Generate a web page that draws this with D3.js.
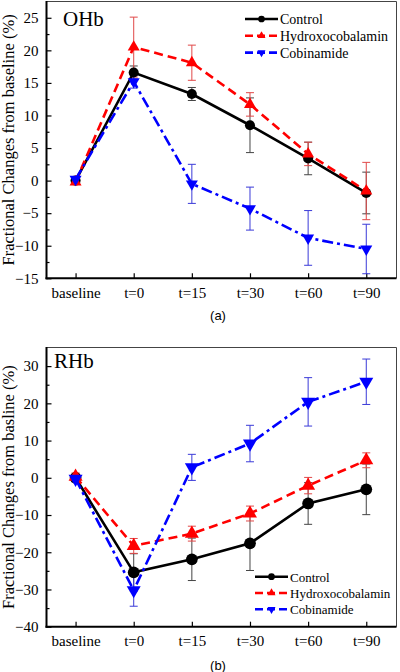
<!DOCTYPE html>
<html><head><meta charset="utf-8">
<script src="https://cdn.jsdelivr.net/npm/d3@7"></script>
<style>body{margin:0;background:#fff}svg{display:block}
svg text{font-family:"Liberation Serif","Times New Roman",serif}
svg text.sans{font-family:"Liberation Sans",Arial,sans-serif}</style>
</head><body>
<script>
const categories = ["baseline","t=0","t=15","t=30","t=60","t=90"];
const seriesNames = ["Control","Hydroxocobalamin","Cobinamide"];

const ohbControl    = [0, 16.6, 13.3, 8.5, 3.4, -1.9];
const ohbControlErr = [0.3, 1.0, 1.0, 4.2, 2.5, 3.2];
const ohbHydroxo    = [-0.2, 20.5, 18.1, 11.7, 4.1, -1.6];
const ohbHydroxoErr = [0.3, 4.6, 2.7, 1.8, 1.8, 4.4];
const ohbCobin      = [0.2, 15.2, -0.5, -4.3, -8.8, -10.5];
const ohbCobinErr   = [0.3, 1.0, 3.0, 3.3, 4.2, 3.8];
const ohbTicks = [-15,-10,-5,0,5,10,15,20,25];

const rhbControl    = [0, -25.4, -21.9, -17.6, -6.9, -3.1];
const rhbControlErr = [0.5, 5.0, 5.7, 7.3, 5.6, 6.8];
const rhbHydroxo    = [0.3, -18.3, -15.0, -9.6, -2.1, 4.7];
const rhbHydroxoErr = [1.0, 2.0, 2.0, 2.0, 2.2, 2.0];
const rhbCobin      = [-0.3, -30.2, 2.8, 9.2, 20.4, 25.8];
const rhbCobinErr   = [0.8, 4.3, 3.5, 4.9, 6.5, 6.1];
const rhbTicks = [-40,-30,-20,-10,0,10,20,30];

const svg = d3.select("body").append("svg").attr("width",400).attr("height",672);
const serif = '"Liberation Serif","Times New Roman",serif';

const styles = [
  {color:"#000000", err:"#444444", dash:null, marker:"circle"},
  {color:"#ff0000", err:"#e04848", dash:"9,5", marker:"up"},
  {color:"#0000ff", err:"#3a3ad8", dash:"11,4,3,4", marker:"down"}
];

function marker(g, type, x, y, s, color){
  if(type==="circle"){
    g.append("circle").attr("cx",x).attr("cy",y).attr("r",s*0.42).attr("fill",color);
  } else {
    const h = s*0.87, w = s/2;
    const pts = type==="up"
      ? [[x-w,y+h/3],[x+w,y+h/3],[x,y-2*h/3]]
      : [[x-w,y-h/3],[x+w,y-h/3],[x,y+2*h/3]];
    g.append("path").attr("d",d3.line()(pts)+"Z").attr("fill",color);
  }
}

function drawPanel(cfg){
  const g = svg.append("g");
  const x = d3.scaleLinear().domain([-0.5,5.52]).range([cfg.left,cfg.right]);
  const y = d3.scaleLinear().domain(cfg.ydom).range([cfg.bottom,cfg.top]);

  g.append("line").attr("x1",cfg.left).attr("x2",cfg.right).attr("y1",cfg.top).attr("y2",cfg.top).attr("stroke","#444").attr("stroke-width",1);
  g.append("line").attr("x1",cfg.right).attr("x2",cfg.right).attr("y1",cfg.top).attr("y2",cfg.bottom).attr("stroke","#444").attr("stroke-width",1);

  const yAx = g.append("g").attr("transform",`translate(${cfg.left},0)`)
    .call(d3.axisLeft(y).tickValues(cfg.ticks).tickSize(-5).tickPadding(8).tickFormat(d3.format("d")));
  const minor = [];
  for(let i=0;i<cfg.ticks.length-1;i++) minor.push((cfg.ticks[i]+cfg.ticks[i+1])/2);
  g.append("g").attr("transform",`translate(${cfg.left},0)`)
    .call(d3.axisLeft(y).tickValues(minor).tickSize(-3).tickFormat(""))
    .call(a=>a.select(".domain").remove());
  yAx.select(".domain").remove();
  const xAx = g.append("g").attr("transform",`translate(0,${cfg.bottom})`)
    .call(d3.axisBottom(x).tickValues(d3.range(categories.length)).tickSize(-5).tickPadding(9).tickFormat(i=>categories[i]));
  xAx.select(".domain").remove();
  [yAx,xAx].forEach(a=>{
    a.attr("font-family",null);
    a.selectAll("text").style("font-family",serif).style("font-size","15px").attr("fill","#000");
  });
  g.selectAll(".tick line").attr("stroke","#000").attr("stroke-width",1.2);
  g.append("line").attr("x1",cfg.left).attr("x2",cfg.left).attr("y1",cfg.top-0.5).attr("y2",cfg.bottom+1).attr("stroke","#000").attr("stroke-width",2);
  g.append("line").attr("x1",cfg.left-1).attr("x2",cfg.right).attr("y1",cfg.bottom).attr("y2",cfg.bottom).attr("stroke","#000").attr("stroke-width",2);

  cfg.series.forEach((s,k)=>{
    const st = styles[k];
    const eg = g.append("g").attr("stroke",st.err).attr("stroke-width",1).attr("fill","none");
    s.vals.forEach((v,i)=>{
      const xi = x(i), y1 = y(v+s.err[i]), y2 = y(v-s.err[i]);
      eg.append("line").attr("x1",xi).attr("x2",xi).attr("y1",y1).attr("y2",y2);
      eg.append("line").attr("x1",xi-4).attr("x2",xi+4).attr("y1",y1).attr("y2",y1);
      eg.append("line").attr("x1",xi-4).attr("x2",xi+4).attr("y1",y2).attr("y2",y2);
    });
  });
  cfg.series.forEach((s,k)=>{
    const st = styles[k];
    const line = d3.line().x((d,i)=>x(i)).y(d=>y(d));
    g.append("path").attr("d",line(s.vals)).attr("fill","none").attr("stroke",st.color)
      .attr("stroke-width",2.6).attr("stroke-dasharray",st.dash);
    s.vals.forEach((v,i)=>marker(g,st.marker,x(i),y(v),cfg.msize,st.color));
  });

  g.append("text").attr("x",cfg.titleX).attr("y",cfg.titleY).text(cfg.title)
    .style("font-size","21px").attr("fill","#000");
  const cy = (cfg.top+cfg.bottom)/2;
  g.append("text").attr("transform",`translate(14,${cy}) rotate(-90)`).attr("text-anchor","middle")
    .text(cfg.ylabel).style("font-size","16.5px").attr("fill","#000");
  g.append("text").attr("class","sans").attr("x",218).attr("y",cfg.letterY).attr("text-anchor","middle").text(cfg.letter)
    .style("font-size","13px").attr("fill","#000");

  seriesNames.forEach((n,k)=>{
    const st = styles[k];
    const ly = cfg.legY + k*cfg.legStep;
    g.append("line").attr("x1",cfg.legX).attr("x2",cfg.legX+33).attr("y1",ly).attr("y2",ly)
      .attr("stroke",st.color).attr("stroke-width",2.6).attr("stroke-dasharray",k===0?null:"8,4");
    marker(g,st.marker,cfg.legX+16.5,ly,8,st.color);
    g.append("text").attr("x",cfg.legX+35).attr("y",ly+5).text(n)
      .style("font-size",cfg.legFont+"px").attr("fill","#000");
  });
}

drawPanel({
  left:46.5, right:396.5, top:1.5, bottom:278.3, ydom:[-15,27.5], ticks:ohbTicks,
  series:[{vals:ohbControl,err:ohbControlErr},{vals:ohbHydroxo,err:ohbHydroxoErr},{vals:ohbCobin,err:ohbCobinErr}],
  title:"OHb", titleX:63, titleY:26, ylabel:"Fractional Changes from baseline (%)",
  letter:"(a)", letterY:320, legX:245, legY:19, legStep:16.8, msize:12, legFont:14
});
drawPanel({
  left:46.5, right:396.5, top:347.5, bottom:626.7, ydom:[-40,35], ticks:rhbTicks,
  series:[{vals:rhbControl,err:rhbControlErr},{vals:rhbHydroxo,err:rhbHydroxoErr},{vals:rhbCobin,err:rhbCobinErr}],
  title:"RHb", titleX:54, titleY:368, ylabel:"Fractional Changes from basline (%)",
  letter:"(b)", letterY:670, legX:255, legY:576.7, legStep:16.3, msize:14, legFont:13
});
</script>
</body></html>
